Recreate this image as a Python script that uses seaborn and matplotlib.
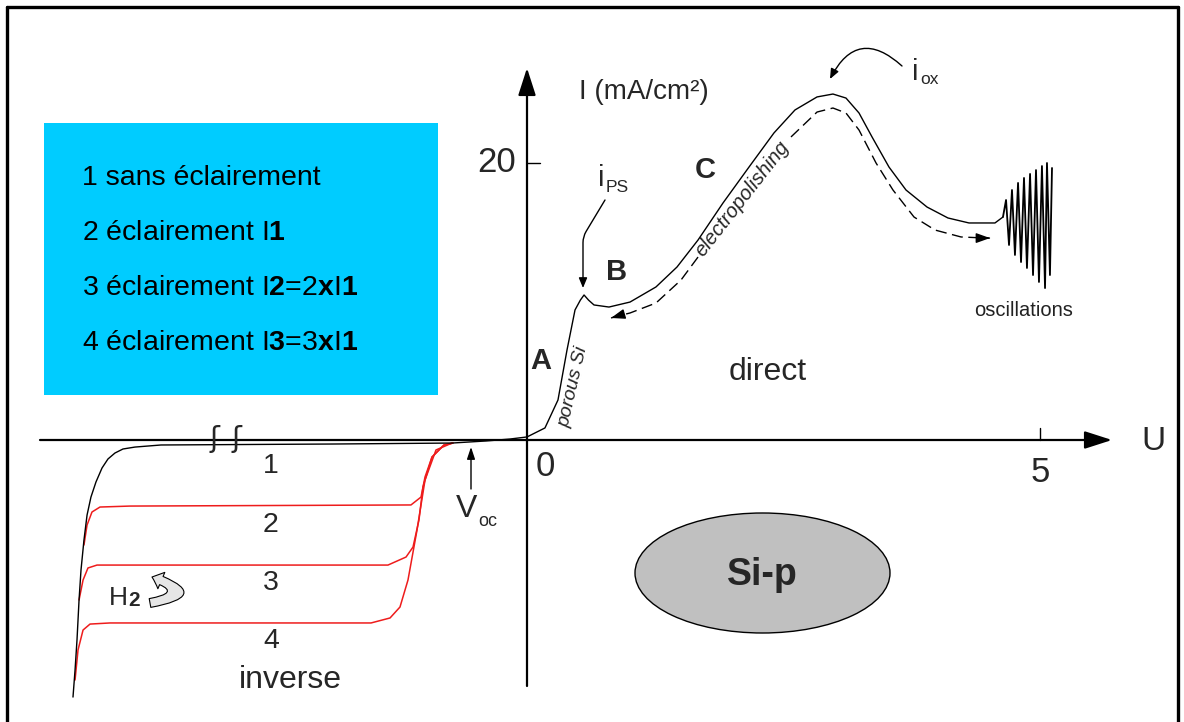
import numpy as np
import pandas as pd
import matplotlib
matplotlib.use("Agg")
import matplotlib.pyplot as plt
from matplotlib.patches import Ellipse, Rectangle, FancyArrowPatch
from matplotlib.lines import Line2D
import seaborn as sns

# ---------------- data (U in V, I in mA/cm^2) ----------------
# curve 1 (no illumination): reverse branch + forward branch
curve1_U = [-4.425, -4.405, -4.386, -4.366, -4.347, -4.318, -4.288, -4.250, -4.201, -4.142,
            -4.084, -4.016, -3.938, -3.821, -3.567, -1.891,
            -0.731, -0.400, -0.166, 0.000, 0.175, 0.302, 0.390, 0.468, 0.520, 0.556, 0.600, 0.653,
            0.799, 1.004, 1.257, 1.462, 1.667, 1.910, 2.164, 2.407, 2.612, 2.827,
            2.982, 3.109, 3.236, 3.363, 3.528, 3.694, 3.899, 4.103, 4.308, 4.561, 4.639]
curve1_I = [-18.56, -16.61, -14.44, -11.55, -9.39, -7.22, -5.42, -4.12, -3.03, -2.02,
            -1.37, -0.94, -0.65, -0.51, -0.36, -0.29,
            -0.22, -0.07, 0.07, 0.22, 0.87, 2.89, 6.50, 9.39, 10.10, 10.47, 10.10, 9.75,
            9.60, 9.96, 11.05, 12.49, 14.44, 17.11, 19.71, 22.17, 23.83, 24.77,
            24.98, 24.69, 23.61, 21.88, 19.71, 18.05, 16.82, 16.03, 15.67, 15.67, 16.10]

# current oscillations at high anodic potential
osc_U = [4.639, 4.669, 4.698, 4.727, 4.756, 4.786, 4.815, 4.844, 4.873, 4.903,
         4.932, 4.961, 4.990, 5.019, 5.049, 5.068, 5.097, 5.117]
osc_I = [16.10, 17.33, 14.08, 18.05, 13.36, 18.56, 12.85, 18.92, 12.42, 19.21,
         11.91, 19.49, 11.41, 19.78, 10.97, 20.00, 11.91, 19.64]

# dashed return path (two parts around the "electropolishing" label)
ret_upper_U = [2.573, 2.827, 2.982, 3.109, 3.236, 3.402, 3.567, 3.772, 3.977, 4.230, 4.474, 4.513]
ret_upper_I = [21.88, 23.68, 23.97, 23.61, 22.38, 20.00, 18.05, 16.10, 15.16, 14.66, 14.58, 14.58]
ret_lower_U = [1.667, 1.501, 1.257, 1.004, 0.860, 0.819]
ret_lower_I = [13.21, 11.55, 9.89, 9.17, 8.90, 8.81]

# illuminated reverse curves
curve2_U = [-4.318, -4.288, -4.240, -4.162, -3.869, -1.131, -1.033, -0.994, -0.926, -0.809, -0.721]
curve2_I = [-7.58, -6.14, -5.20, -4.84, -4.77, -4.69, -4.12, -2.67, -1.23, -0.36, -0.22]
curve3_U = [-4.366, -4.327, -4.279, -4.191, -3.967, -1.355, -1.179, -1.111, -1.053, -1.014, -0.926, -0.809, -0.721]
curve3_I = [-11.55, -10.11, -9.24, -9.03, -9.03, -9.03, -8.45, -7.73, -5.78, -3.39, -1.23, -0.36, -0.22]
curve4_U = [-4.405, -4.376, -4.327, -4.259, -4.064, -1.520, -1.335, -1.238, -1.160, -1.072, -0.994, -0.887, -0.731]
curve4_I = [-17.33, -15.16, -13.72, -13.29, -13.21, -13.21, -12.85, -12.06, -10.11, -6.50, -2.89, -0.72, -0.22]

x_ticks = [5]
x_tick_labels = ["0", "5"]
y_ticks = [20]
y_tick_labels = ["20"]
curve_numbers = ["1", "2", "3", "4"]
legend_lines = ["1 sans éclairement",
                r"2 éclairement I$\mathbf{1}$",
                r"3 éclairement I$\mathbf{2}$=2$\mathbf{x}$I$\mathbf{1}$",
                r"4 éclairement I$\mathbf{3}$=3$\mathbf{x}$I$\mathbf{1}$"]

# ---------------- style ----------------
sns.set_theme(style="white")
FONT = "Liberation Sans"
plt.rcParams["font.family"] = [FONT, "DejaVu Sans"]
plt.rcParams["mathtext.fontset"] = "custom"
plt.rcParams["mathtext.rm"] = FONT
plt.rcParams["mathtext.bf"] = FONT + ":bold"
plt.rcParams["mathtext.it"] = FONT + ":italic"

W, H = 1184, 722
fig = plt.figure(figsize=(W / 100, H / 100), dpi=100)
ax = fig.add_axes([0, 0, 1, 1])
ax.set_axis_off()

# scale: origin at pixel (527, 440); 5 V -> 513 px ; 20 mA/cm2 -> 277 px
SX, SY = 102.6, 13.85
X0, Y0 = 527, 440
ax.set_xlim(-X0 / SX, (W - X0) / SX)
ax.set_ylim((Y0 - H) / SY, Y0 / SY)


def P(px, py):
    """pixel position -> data position (for annotations only)"""
    return ((px - X0) / SX, (Y0 - py) / SY)


# ---------------- frame ----------------
lwf = 2.4
fig.add_artist(Line2D([7 / W, 7 / W], [0, 1 - 7 / H], color="black", lw=lwf, transform=fig.transFigure))
fig.add_artist(Line2D([7 / W, 1178 / W], [1 - 7 / H, 1 - 7 / H], color="black", lw=lwf, transform=fig.transFigure))
fig.add_artist(Line2D([1178 / W, 1178 / W], [0, 1 - 7 / H], color="black", lw=lwf, transform=fig.transFigure))

# ---------------- legend box ----------------
ax.add_patch(Rectangle((44 / W, 1 - 395 / H), 394 / W, 272 / H, transform=ax.transAxes,
                       facecolor="#00CCFF", edgecolor="none", zorder=1))
for i, line in enumerate(legend_lines):
    ax.text(*P(82, 178 + 55 * i), line, fontsize=20.5, ha="left", va="center", color="black", zorder=3)

# ---------------- axes with arrows ----------------
ax.annotate("", xy=P(1112, 440), xytext=P(40, 440),
            arrowprops=dict(arrowstyle="-|>,head_length=1.4,head_width=0.45", lw=1.6, color="black",
                            shrinkA=0, shrinkB=0), zorder=2)
ax.annotate("", xy=P(527, 68), xytext=P(527, 686),
            arrowprops=dict(arrowstyle="-|>,head_length=1.4,head_width=0.45", lw=1.6, color="black",
                            shrinkA=0, shrinkB=0), zorder=2)
for xt in x_ticks:
    ax.plot([xt, xt], [0, 0.9], color="black", lw=1.0)
for yt in y_ticks:
    ax.plot([0, 0.13], [yt, yt], color="black", lw=1.0)

ax.text(*P(545, 466), x_tick_labels[0], fontsize=25, ha="center", va="center")
ax.text(x_ticks[0], P(0, 472)[1], x_tick_labels[1], fontsize=25, ha="center", va="center")
ax.text(P(516, 0)[0], y_ticks[0], y_tick_labels[0], fontsize=25, ha="right", va="center")
ax.text(*P(1153, 442), "U", fontsize=24, ha="center", va="center")
ax.text(*P(644, 92), "I (mA/cm²)", fontsize=20, ha="center", va="center")

# ---------------- curves ----------------
line_kw = dict(estimator=None, sort=False, ax=ax, legend=False)
sns.lineplot(x=curve4_U, y=curve4_I, color="#ee1c1c", lw=1.1, **line_kw)
sns.lineplot(x=curve3_U, y=curve3_I, color="#ee1c1c", lw=1.1, **line_kw)
sns.lineplot(x=curve2_U, y=curve2_I, color="#ee1c1c", lw=1.1, **line_kw)
sns.lineplot(x=curve1_U, y=curve1_I, color="black", lw=1.0, **line_kw)
sns.lineplot(x=osc_U, y=osc_I, color="black", lw=1.3, **line_kw)
for uu, ii in [(ret_upper_U, ret_upper_I), (ret_lower_U, ret_lower_I)]:
    sns.lineplot(x=uu, y=ii, color="black", lw=1.0, **line_kw)
for l in ax.lines[-2:]:
    l.set_dashes((8, 4))
# arrowheads on the dashed return path
for uu, ii in [(ret_upper_U, ret_upper_I), (ret_lower_U, ret_lower_I)]:
    ax.annotate("", xy=(uu[-1], ii[-1]), xytext=(uu[-2], ii[-2]),
                arrowprops=dict(arrowstyle="-|>,head_length=0.7,head_width=0.25", lw=1.0,
                                color="black", shrinkA=0, shrinkB=0))

# break marks on the axis
for bx in (214, 236):
    ax.text(*P(bx, 439), "ʃ", family="DejaVu Sans", fontsize=21, ha="center", va="center")

# ---------------- labels ----------------
for i, n in enumerate(curve_numbers):
    ax.text(*P(271, 466 + 58.5 * i), n, fontsize=20.5, ha="center", va="center")
ax.text(*P(290, 680), "inverse", fontsize=23, ha="center", va="center")
ax.text(*P(768, 372), "direct", fontsize=23, ha="center", va="center")
ax.text(*P(541, 361), "A", fontsize=21, weight="bold", ha="center", va="center")
ax.text(*P(617, 272), "B", fontsize=21, weight="bold", ha="center", va="center")
ax.text(*P(705, 170), "C", fontsize=21, weight="bold", ha="center", va="center")
ax.text(*P(573, 387), "porous Si", fontsize=14, style="italic", rotation=77,
        rotation_mode="anchor", ha="center", va="center")
ax.text(*P(742, 199), "electropolishing", fontsize=14.5, style="italic", rotation=52,
        rotation_mode="anchor", ha="center", va="center")
ax.text(*P(1024, 310), "oscillations", fontsize=14.5, ha="center", va="center", color="#222222")

# i_PS
ax.text(*P(601, 178), "i", fontsize=21, ha="center", va="center")
ax.text(*P(606, 188), "PS", fontsize=12.5, ha="left", va="center")
ax.add_patch(FancyArrowPatch(P(605, 200), P(583, 288),
                             connectionstyle="angle,angleA=59,angleB=90,rad=6",
                             arrowstyle="-|>,head_length=6,head_width=2.5", lw=1.0, color="black",
                             shrinkA=0, shrinkB=0))
# i_ox
ax.text(*P(915, 72), "i", fontsize=21, ha="center", va="center")
ax.text(*P(920, 80), "ox", fontsize=12.5, ha="left", va="center")
ax.add_patch(FancyArrowPatch(P(902, 66), P(830, 79), connectionstyle="arc3,rad=0.65",
                             arrowstyle="-|>,head_length=6,head_width=2.5", lw=1.0, color="black",
                             shrinkA=0, shrinkB=0))
# V_oc
ax.text(*P(467, 509), "V", fontsize=23, ha="center", va="center")
ax.text(*P(478, 521), "oc", fontsize=13, ha="left", va="center")
ax.annotate("", xy=P(471, 447), xytext=P(471, 489),
            arrowprops=dict(arrowstyle="-|>,head_length=0.6,head_width=0.2", lw=1.0, color="black",
                            shrinkA=0, shrinkB=0))
# H2 with curved hollow arrow
ax.text(*P(118, 598), "H", fontsize=19, ha="center", va="center")
ax.text(*P(128, 601), "2", fontsize=15, weight="bold", ha="left", va="center")
ax.add_patch(FancyArrowPatch(P(150, 603), P(152, 577), connectionstyle="arc3,rad=1.9",
                             arrowstyle="simple,head_length=0.45,head_width=0.8,tail_width=0.4",
                             mutation_scale=16, facecolor="#e6e6e6", edgecolor="black", lw=0.8,
                             shrinkA=0, shrinkB=0))

# Si-p ellipse
ax.add_patch(Ellipse((0.5 * (635 + 890) / W, 1 - 573 / H), 255 / W, 120 / H, transform=ax.transAxes,
                     facecolor="#C0C0C0", edgecolor="black", lw=1.0))
ax.text(*P(762, 575), "Si-p", fontsize=27, weight="bold", ha="center", va="center")

fig.savefig("out.png", dpi=100, facecolor="white")
